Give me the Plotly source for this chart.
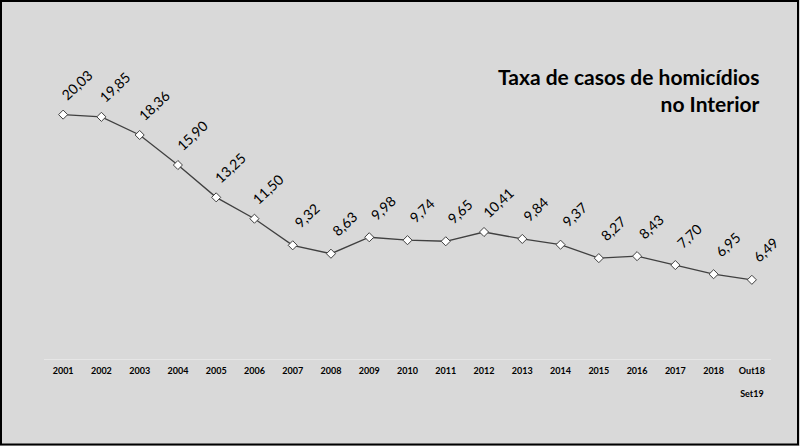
import plotly.graph_objects as go

categories = ["2001", "2002", "2003", "2004", "2005", "2006", "2007", "2008", "2009", "2010",
              "2011", "2012", "2013", "2014", "2015", "2016", "2017", "2018", "Out18<br><br>Set19"]
values = [20.03, 19.85, 18.36, 15.90, 13.25, 11.50, 9.32, 8.63, 9.98, 9.74,
          9.65, 10.41, 9.84, 9.37, 8.27, 8.43, 7.70, 6.95, 6.49]
labels = [f"{v:.2f}".replace(".", ",") for v in values]
title_lines = ["Taxa de casos de homicídios", "no Interior"]

W, H = 800, 446
ML, MR, MT, MB = 44, 29, 54, 87
PW, PH = W - ML - MR, H - MT - MB

FONT = "Lato"
BG = "#d9d9d9"

xs = list(range(len(categories)))

fig = go.Figure()
fig.add_trace(go.Scatter(
    x=xs, y=values, mode="lines+markers",
    line=dict(color="#404040", width=1.3),
    marker=dict(symbol="diamond", size=7, color="white",
                line=dict(color="#404040", width=1)),
    hoverinfo="skip", showlegend=False,
))

annotations = []
for x, v, t in zip(xs, values, labels):
    annotations.append(dict(
        x=x, y=v, xref="x", yref="y", text=t, showarrow=False,
        textangle=-43, xshift=14, yshift=30,
        font=dict(family=FONT, size=14, color="#000000"),
    ))

annotations.append(dict(
    x=(762 - ML) / PW, y=(359 - 90) / PH, xref="paper", yref="paper",
    xanchor="right", yanchor="middle", align="right", showarrow=False,
    text="<br>".join(title_lines),
    font=dict(family=FONT, size=21, color="#000000", weight="bold"),
))

def px_x(p):
    return (p - ML) / PW

def px_y(p):
    return (H - MB - p) / PH

fig.add_shape(type="rect", xref="paper", yref="paper",
              x0=px_x(1), x1=px_x(798), y0=px_y(444.5), y1=px_y(1),
              line=dict(color="#000000", width=2), fillcolor="rgba(0,0,0,0)",
              layer="above")

fig.update_layout(
    width=W, height=H,
    margin=dict(l=ML, r=MR, t=MT, b=MB, pad=0),
    paper_bgcolor=BG, plot_bgcolor=BG,
    annotations=annotations,
    xaxis=dict(
        range=[-0.5, len(categories) - 0.5],
        tickmode="array", tickvals=xs, ticktext=categories,
        tickfont=dict(family=FONT, size=9, color="#000000", weight="bold"),
        showgrid=False, zeroline=False,
        showline=True, linecolor="#e6e6e6", linewidth=1,
        ticks="", ticklabelstandoff=3,
        fixedrange=True,
    ),
    yaxis=dict(
        range=[0, 25], visible=False, showgrid=False, zeroline=False,
        fixedrange=True,
    ),
)

fig.write_html(
    "out.html",
    config={"displayModeBar": False},
    post_script="document.body.style.margin='0';document.body.style.padding='0';"
                "document.body.style.overflow='hidden';",
)
